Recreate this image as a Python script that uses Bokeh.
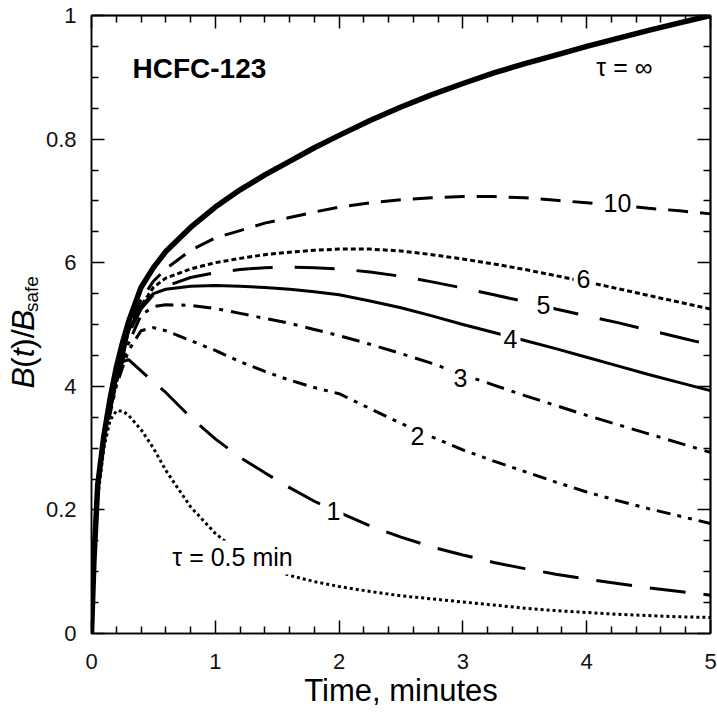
from bokeh.plotting import figure
from bokeh.layouts import row
from bokeh.models import Range1d, FixedTicker, LinearAxis, Label
from bokeh.embed import file_html
from bokeh.resources import INLINE

# ---------------- data ----------------
time_min = [0, 0.02, 0.05, 0.1, 0.15, 0.2, 0.25, 0.3, 0.4, 0.5, 0.6, 0.8, 1.0, 1.2, 1.4,
            1.6, 1.8, 2.0, 2.25, 2.5, 2.75, 3.0, 3.25, 3.5, 3.75, 4.0, 4.25, 4.5, 4.75, 5.0]

b_tau_inf = [0, 0.12, 0.24, 0.32, 0.38, 0.43, 0.47, 0.505, 0.56, 0.592, 0.618, 0.657, 0.69, 0.718, 0.742,
             0.764, 0.786, 0.806, 0.83, 0.852, 0.872, 0.89, 0.907, 0.922, 0.936, 0.95, 0.963, 0.976, 0.988, 1.0]
b_tau_10 = [0, 0.12, 0.24, 0.32, 0.375, 0.425, 0.46, 0.495, 0.54, 0.57, 0.59, 0.62, 0.64, 0.652, 0.664,
            0.673, 0.682, 0.69, 0.697, 0.702, 0.705, 0.707, 0.707, 0.705, 0.701, 0.697, 0.693, 0.688, 0.684, 0.679]
b_tau_6 = [0, 0.12, 0.24, 0.32, 0.372, 0.42, 0.455, 0.49, 0.53, 0.56, 0.575, 0.59, 0.6, 0.607, 0.613,
           0.617, 0.62, 0.622, 0.622, 0.619, 0.613, 0.606, 0.598, 0.589, 0.579, 0.569, 0.558, 0.547, 0.536, 0.525]
b_tau_5 = [0, 0.12, 0.24, 0.32, 0.37, 0.415, 0.45, 0.485, 0.525, 0.548, 0.562, 0.576, 0.584, 0.589, 0.592,
           0.593, 0.592, 0.59, 0.585, 0.578, 0.569, 0.559, 0.548, 0.537, 0.525, 0.514, 0.503, 0.491, 0.479, 0.467]
b_tau_4 = [0, 0.12, 0.24, 0.32, 0.365, 0.41, 0.445, 0.49, 0.53, 0.55, 0.557, 0.562, 0.563, 0.562, 0.56,
           0.557, 0.553, 0.548, 0.538, 0.527, 0.514, 0.5, 0.487, 0.474, 0.461, 0.447, 0.433, 0.419, 0.406, 0.393]
b_tau_3 = [0, 0.12, 0.24, 0.32, 0.36, 0.405, 0.44, 0.47, 0.515, 0.529, 0.532, 0.531, 0.526, 0.518, 0.51,
           0.502, 0.492, 0.482, 0.468, 0.453, 0.437, 0.419, 0.402, 0.385, 0.369, 0.353, 0.338, 0.323, 0.308, 0.293]
b_tau_2 = [0, 0.12, 0.235, 0.315, 0.355, 0.4, 0.43, 0.458, 0.49, 0.495, 0.49, 0.474, 0.458, 0.44, 0.424,
           0.41, 0.398, 0.388, 0.364, 0.34, 0.318, 0.297, 0.279, 0.262, 0.245, 0.229, 0.215, 0.202, 0.19, 0.178]
b_tau_1 = [0, 0.12, 0.235, 0.31, 0.36, 0.41, 0.44, 0.443, 0.425, 0.407, 0.39, 0.35, 0.315, 0.285, 0.26,
           0.236, 0.214, 0.196, 0.174, 0.156, 0.14, 0.127, 0.115, 0.105, 0.096, 0.088, 0.081, 0.074, 0.068, 0.062]
b_tau_05 = [0, 0.11, 0.22, 0.3, 0.345, 0.36, 0.36, 0.353, 0.33, 0.3, 0.264, 0.205, 0.162, 0.13, 0.109,
            0.094, 0.084, 0.076, 0.068, 0.061, 0.056, 0.051, 0.046, 0.041, 0.037, 0.034, 0.031, 0.029, 0.027, 0.026]

x_ticks = [0, 1, 2, 3, 4, 5]
x_minor_ticks = [0.2, 0.4, 0.6, 0.8, 1.2, 1.4, 1.6, 1.8, 2.2, 2.4, 2.6, 2.8, 3.2, 3.4, 3.6, 3.8,
                 4.2, 4.4, 4.6, 4.8]
y_ticks = [0, 0.2, 0.4, 0.6, 0.8, 1.0]
y_tick_labels = ["0", "0.2", "4", "6", "0.8", "1"]
y_minor_ticks = [0.05, 0.1, 0.15, 0.25, 0.3, 0.35, 0.45, 0.5, 0.55, 0.65, 0.7, 0.75,
                 0.85, 0.9, 0.95]

curve_labels = ["\u03c4 = \u221e", "10", "6", "5", "4", "3", "2", "1", "\u03c4 = 0.5 min"]
curve_label_t = [4.305, 4.249, 3.974, 3.651, 3.385, 2.98, 2.633, 1.955, 1.139]
curve_label_b = [0.916, 0.696, 0.574, 0.531, 0.477, 0.414, 0.32, 0.199, 0.123]

title_text = "HCFC-123"
x_title = "Time, minutes"
y_title_pieces = ["B", "(", "t", ")/", "B", "safe"]

FONT = "Liberation Sans"
STRIP_W = 42

# ---------------- main figure ----------------
p = figure(width=717 - STRIP_W, height=715, x_range=Range1d(0, 5), y_range=Range1d(0, 1),
           output_backend="svg", toolbar_location=None,
           min_border_left=91 - STRIP_W, min_border_right=7, min_border_top=15, min_border_bottom=82)
p.background_fill_color = "white"
p.border_fill_color = "white"
p.xgrid.visible = False
p.ygrid.visible = False
p.outline_line_color = "black"
p.outline_line_width = 1.5


def style_axis(ax):
    ax.axis_line_color = "black"
    ax.axis_line_width = 1.5
    ax.major_tick_in = 13
    ax.major_tick_out = 0
    ax.minor_tick_in = 7
    ax.minor_tick_out = 0
    ax.major_tick_line_width = 1.5
    ax.minor_tick_line_width = 1.5
    ax.major_tick_line_color = "black"
    ax.minor_tick_line_color = "black"
    ax.major_label_text_font = FONT
    ax.major_label_text_font_size = "22px"
    ax.major_label_text_color = "#111111"


def tick_only_axis(positions, length):
    # an axis that draws only inward tick marks (no labels): the marks are "minor" ticks
    ax = LinearAxis(ticker=FixedTicker(ticks=[], minor_ticks=positions))
    ax.axis_line_color = "black"
    ax.axis_line_width = 1.5
    ax.major_tick_in = 0
    ax.major_tick_out = 0
    ax.minor_tick_in = length
    ax.minor_tick_out = 0
    ax.minor_tick_line_width = 1.5
    ax.minor_tick_line_color = "black"
    ax.major_label_standoff = 0
    return ax


xa = p.xaxis[0]
xa.ticker = FixedTicker(ticks=x_ticks, minor_ticks=x_minor_ticks)
style_axis(xa)
xa.major_label_standoff = 20
xa.axis_label = x_title
xa.axis_label_text_font = FONT
xa.axis_label_text_font_size = "31px"
xa.axis_label_text_font_style = "normal"
xa.axis_label_text_color = "black"
xa.axis_label_standoff = 1

ya = p.yaxis[0]
ya.ticker = FixedTicker(ticks=y_ticks, minor_ticks=y_minor_ticks)
style_axis(ya)
ya.major_label_standoff = 15
ya.major_label_overrides = {v: s for v, s in zip(y_ticks, y_tick_labels)}

# mirrored inward ticks on the top and right edges
p.add_layout(tick_only_axis(x_ticks, 13), "above")
p.add_layout(tick_only_axis(x_minor_ticks, 7), "above")
p.add_layout(tick_only_axis(y_ticks, 13), "right")
p.add_layout(tick_only_axis(y_minor_ticks, 7), "right")

# ---------------- curves ----------------
curves = [
    (b_tau_05, 3, "3 3"),
    (b_tau_1, 3, "36 18"),
    (b_tau_2, 3, "14 7 4 7 4 7"),
    (b_tau_3, 3, "18 8 4 8"),
    (b_tau_4, 3, "solid"),
    (b_tau_5, 3, "40 22"),
    (b_tau_6, 3, "5 3"),
    (b_tau_10, 3, "20 12"),
    (b_tau_inf, 5.5, "solid"),
]
for vals, w, dash in curves:
    p.line(time_min, vals, line_color="black", line_width=w, line_dash=dash)

# ---------------- labels ----------------
for i, (txt, t, b) in enumerate(zip(curve_labels, curve_label_t, curve_label_b)):
    lab = Label(x=t, y=b, text=txt, text_align="center", text_baseline="middle",
                text_font=FONT, text_font_size="25px", text_color="black")
    if i > 0:
        lab.background_fill_color = "white"
        lab.padding = 3
    p.add_layout(lab)

p.add_layout(Label(x=0.331, y=0.914, text=title_text, text_align="left", text_baseline="middle",
                   text_font=FONT, text_font_size="28px", text_font_style="bold", text_color="black"))

# ---------------- y-axis title strip: B(t)/B_safe, rotated ----------------
strip = figure(width=STRIP_W, height=715, x_range=Range1d(0, STRIP_W), y_range=Range1d(0, 715),
               output_backend="svg", toolbar_location=None, min_border=0,
               x_axis_location=None, y_axis_location=None)
strip.outline_line_color = None
strip.xgrid.visible = False
strip.ygrid.visible = False
strip.background_fill_color = "white"
strip.border_fill_color = "white"

# approximate advance widths (em) of the Liberation Sans glyphs used
em_width = {"B": 0.667, "(": 0.333, "t": 0.278, ")/": 0.611, "safe": 1.89}
piece_styles = ["italic", "normal", "italic", "normal", "italic", "normal"]
piece_sizes = [32, 32, 32, 32, 32, 19]
piece_gap = [0, 1.7, 1.5, 1.6, 1.5, 1.7]
piece_mid_x = [22.0, 22.0, 22.0, 22.0, 22.0, 30.5]
start = 285.0
for txt, style, size, gap, mx in zip(y_title_pieces, piece_styles, piece_sizes, piece_gap, piece_mid_x):
    start += gap
    w = em_width[txt] * size
    strip.add_layout(Label(x=mx, y=start + w / 2, angle=1.5707963267948966,
                           text=txt, text_align="center", text_baseline="middle",
                           text_font=FONT, text_font_size=f"{size}px", text_font_style=style,
                           text_color="black"))
    start += w

layout = row(strip, p)
open("out.html", "w").write(file_html(layout, INLINE))
